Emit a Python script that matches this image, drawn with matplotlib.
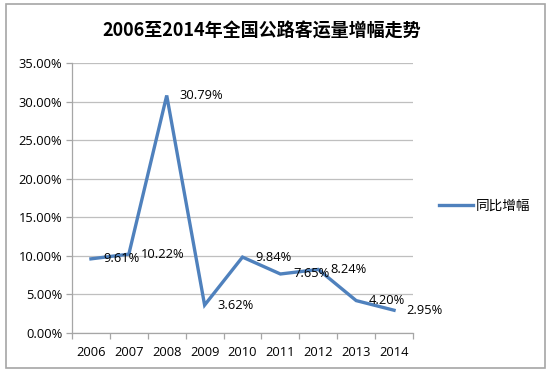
import matplotlib
matplotlib.use("Agg")
import matplotlib.pyplot as plt
from matplotlib.patches import Rectangle
from matplotlib.ticker import FixedLocator, PercentFormatter

plt.rcParams['font.family'] = ['Open Sans', 'Noto Sans CJK SC', 'DejaVu Sans']

years = ['2006', '2007', '2008', '2009', '2010', '2011', '2012', '2013', '2014']
growth = [9.61, 10.22, 30.79, 3.62, 9.84, 7.65, 8.24, 4.20, 2.95]
series_name = '同比增幅'
title = '2006至2014年全国公路客运量增幅走势'
yticks = [0, 5, 10, 15, 20, 25, 30, 35]

W, H = 550, 373
fig = plt.figure(figsize=(W / 100, H / 100), dpi=100)
fig.patch.set_facecolor('white')

# outer border
fig.patches.append(Rectangle((6 / W, 1 - 368 / H), (545 - 6) / W, (368 - 4) / H,
                             transform=fig.transFigure, fill=False,
                             edgecolor='#a6a6a6', linewidth=1.2))

ax = fig.add_axes([72 / W, 1 - 333 / H, 341 / W, 270 / H])
x = list(range(len(years)))
line, = ax.plot(x, growth, color='#4F81BD', linewidth=2.4, label=series_name,
                solid_joinstyle='miter')

fs = 9.3
for xi, v in zip(x, growth):
    ax.annotate(f'{v:.2f}%', (xi, v), xytext=(9, 0), textcoords='offset points',
                ha='left', va='center', fontsize=fs, color='black')

ax.set_xlim(-0.5, len(years) - 0.5)
ax.set_ylim(0, 35)
ax.set_yticks(yticks)
ax.yaxis.set_major_formatter(PercentFormatter(decimals=2))
ax.set_xticks(x)
ax.set_xticklabels(years)
ax.xaxis.set_minor_locator(FixedLocator([i - 0.5 for i in range(len(years) + 1)]))
ax.tick_params(axis='x', which='major', length=0, pad=9, labelsize=fs)
ax.tick_params(axis='x', which='minor', length=4, color='#a6a6a6', width=0.9)
ax.tick_params(axis='y', length=4, color='#a6a6a6', width=0.9, pad=3, labelsize=fs)

ax.grid(axis='y', color='#bfbfbf', linewidth=0.9)
ax.set_axisbelow(True)
for s in ['top', 'right']:
    ax.spines[s].set_visible(False)
for s in ['left', 'bottom']:
    ax.spines[s].set_color('#a6a6a6')
    ax.spines[s].set_linewidth(0.9)

fig.text(262 / W, 1 - 31 / H, title, ha='center', va='center', fontsize=13,
         fontweight='bold', family=['Noto Sans CJK SC', 'DejaVu Sans'])

fig.legend(handles=[line], loc='center left', bbox_to_anchor=(434 / W, 1 - 206 / H),
           frameon=False, handlelength=2.5, handletextpad=0.2,
           borderaxespad=0, prop={'family': ['Noto Sans CJK SC'], 'size': 9.8})

fig.savefig('out.png', dpi=100)
